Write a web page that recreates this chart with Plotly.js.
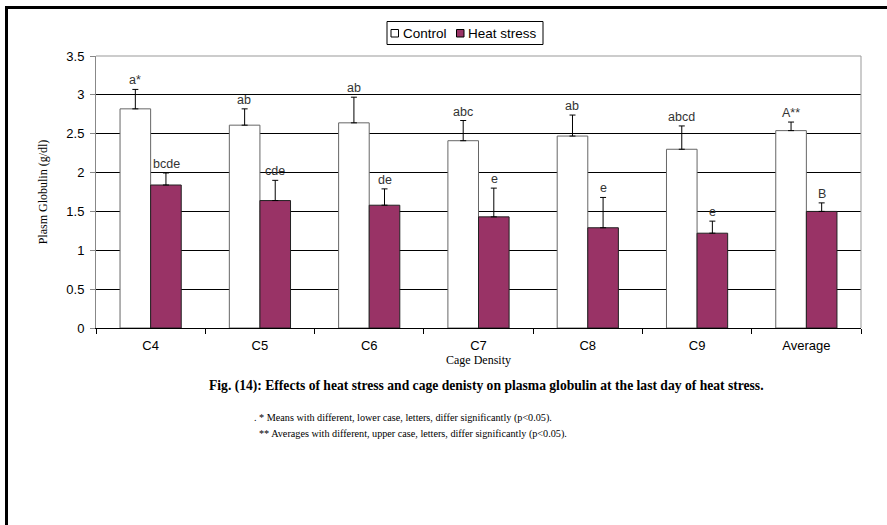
<!DOCTYPE html>
<html><head><meta charset="utf-8">
<script src="https://cdn.plot.ly/plotly-3.0.1.min.js"></script>
<style>html,body{margin:0;padding:0;background:#fff}#chart{width:887px;height:525px}</style>
</head><body><div id="chart"></div>
<script>
var categories = ["C4","C5","C6","C7","C8","C9","Average"];
var seriesNames = ["Control","Heat stress"];
var controlValues = [2.82, 2.61, 2.64, 2.41, 2.47, 2.30, 2.54];
var controlErrors = [0.25, 0.21, 0.33, 0.26, 0.27, 0.30, 0.11];
var heatValues = [1.84, 1.64, 1.58, 1.43, 1.29, 1.22, 1.50];
var heatErrors = [0.155, 0.26, 0.21, 0.37, 0.39, 0.155, 0.11];
var controlLetters = ["a*","ab","ab","abc","ab","abcd","A**"];
var heatLetters = ["bcde","cde","de","e","e","e","B"];
var yTicks = [0,0.5,1,1.5,2,2.5,3,3.5];
var yTickLabels = ["0","0.5","1","1.5","2","2.5","3","3.5"];

var W = 887, H = 525, ml = 96, mr = 26, mt = 56, mb = 197;
var pw = W - ml - mr, ph = H - mt - mb;
function px(x){ return (x - ml) / pw; }
function py(y){ return (H - mb - y) / ph; }
var SANS = "Liberation Sans, Arial", SERIF = "Liberation Serif, Times New Roman";
var colControl = "#ffffff", colHeat = "#993366";

var traces = [
  {type:"bar", name:seriesNames[0], x:categories, y:controlValues,
   marker:{color:colControl, line:{color:"#666666", width:1}},
   error_y:{type:"data", array:controlErrors, symmetric:false, arrayminus:controlErrors.map(function(){return 0;}), color:"#000", thickness:1, width:3}},
  {type:"bar", name:seriesNames[1], x:categories, y:heatValues,
   marker:{color:colHeat, line:{color:"#222222", width:1}},
   error_y:{type:"data", array:heatErrors, symmetric:false, arrayminus:heatErrors.map(function(){return 0;}), color:"#000", thickness:1, width:3}}
];

var annotations = [];
categories.forEach(function(c, i){
  annotations.push({x:c, y:controlValues[i] + controlErrors[i], xref:"x", yref:"y", text:controlLetters[i],
    showarrow:false, xshift:-15.5, yanchor:"bottom", yshift:0, font:{family:SANS, size:12.5, color:"#333"}});
  annotations.push({x:c, y:heatValues[i] + heatErrors[i], xref:"x", yref:"y", text:heatLetters[i],
    showarrow:false, xshift:15.5, yanchor:"bottom", yshift:0, font:{family:SANS, size:12.5, color:"#333"}});
});
annotations.push({xref:"paper", yref:"paper", x:px(487), y:py(386), xanchor:"center", yanchor:"middle", showarrow:false,
  text:"<b>Fig. (14): Effects of heat stress and cage denisty on plasma globulin at the last day of heat stress.</b>",
  font:{family:SERIF, size:13.6, color:"#000"}});
annotations.push({xref:"paper", yref:"paper", x:px(252), y:py(418), xanchor:"left", yanchor:"middle", showarrow:false,
  text:". * Means with different, lower case, letters, differ significantly (p<0.05).",
  font:{family:SERIF, size:10.2, color:"#000"}});
annotations.push({xref:"paper", yref:"paper", x:px(257), y:py(434), xanchor:"left", yanchor:"middle", showarrow:false,
  text:"** Averages with different, upper case, letters, differ significantly (p<0.05).",
  font:{family:SERIF, size:10.2, color:"#000"}});
// custom legend labels
annotations.push({xref:"paper", yref:"paper", x:px(401), y:py(33), xanchor:"left", yanchor:"middle", showarrow:false,
  text:seriesNames[0], font:{family:SANS, size:13.5, color:"#000"}});
annotations.push({xref:"paper", yref:"paper", x:px(466), y:py(33), xanchor:"left", yanchor:"middle", showarrow:false,
  text:seriesNames[1], font:{family:SANS, size:13.5, color:"#000"}});

var shapes = [
  {type:"line", xref:"paper", yref:"paper", x0:px(5), x1:px(900), y0:py(7.5), y1:py(7.5), line:{color:"#000", width:3}},
  {type:"line", xref:"paper", yref:"paper", x0:px(6.5), x1:px(6.5), y0:py(6), y1:py(540), line:{color:"#000", width:3}},
  {type:"line", xref:"paper", yref:"paper", x0:1, x1:1, y0:0, y1:1, line:{color:"#999", width:1}},
  {type:"line", xref:"paper", yref:"paper", x0:0, x1:1, y0:1, y1:1, line:{color:"#999", width:1}},
  // legend box and swatches
  {type:"rect", xref:"paper", yref:"paper", x0:px(387), x1:px(543), y0:py(21.5), y1:py(44.5), line:{color:"#000", width:1}, fillcolor:"#fff"},
  {type:"rect", xref:"paper", yref:"paper", x0:px(391), x1:px(398.5), y0:py(29.5), y1:py(37), line:{color:"#000", width:1}, fillcolor:colControl},
  {type:"rect", xref:"paper", yref:"paper", x0:px(456.5), x1:px(464), y0:py(29.5), y1:py(37), line:{color:"#000", width:1}, fillcolor:colHeat}
];

var layout = {
  width:W, height:H, margin:{l:ml, r:mr, t:mt, b:mb, pad:0},
  paper_bgcolor:"#fff", plot_bgcolor:"#fff",
  barmode:"group", bargap:0.44, bargroupgap:0,
  font:{family:SANS, size:12, color:"#000"},
  showlegend:false,
  xaxis:{type:"category", showline:true, linecolor:"#000", linewidth:1, ticks:"outside", tickson:"boundaries",
    ticklen:5, tickcolor:"#000", showgrid:false, zeroline:false, ticklabelstandoff:5,
    tickfont:{family:SANS, size:13, color:"#000"},
    title:{text:"Cage Density", standoff:0, font:{family:SERIF, size:12, color:"#000"}}},
  yaxis:{range:[0,3.5], tickvals:yTicks, ticktext:yTickLabels, showline:true, linecolor:"#888", linewidth:1,
    ticks:"outside", ticklen:5, tickcolor:"#888", showgrid:true, gridcolor:"#000", gridwidth:1, zeroline:false,
    ticklabelstandoff:3,
    tickfont:{family:SANS, size:13, color:"#000"},
    title:{text:"Plasm Globulin (g/dl)", standoff:16, font:{family:SERIF, size:12, color:"#000"}}},
  annotations:annotations, shapes:shapes
};
Plotly.newPlot("chart", traces, layout, {displayModeBar:false, staticPlot:true});
</script></body></html>
